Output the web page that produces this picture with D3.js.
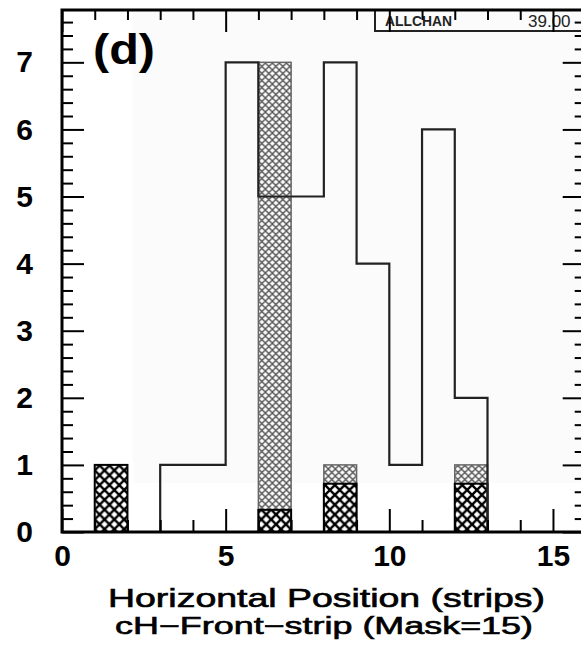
<!DOCTYPE html>
<html>
<head>
<meta charset="utf-8">
<script src="https://cdn.jsdelivr.net/npm/d3@7"></script>
<style>
  html, body { margin: 0; padding: 0; background: #fff; }
  svg { display: block; }
</style>
</head>
<body>
<div id="chart"></div>
<script>
// ---- data ----
const binStarts     = [0, 1, 2, 3, 4, 5, 6, 7, 8, 9, 10, 11, 12, 13, 14, 15];
const outlineCounts = [0, 0, 0, 1, 1, 7, 5, 5, 7, 4, 1, 6, 2, 0, 0, 0];
const lightHatch    = [0, 0, 0, 0, 0, 0, 7, 0, 1, 0, 0, 0, 1, 0, 0, 0];
const darkHatch     = [0, 1, 0, 0, 0, 0, 0.33, 0, 0.72, 0, 0, 0, 0.72, 0, 0, 0];
const xMajorTicks   = [0, 5, 10, 15];
const xMinorTicks   = [1, 2, 3, 4, 6, 7, 8, 9, 11, 12, 13, 14];
const yMajorTicks   = [0, 1, 2, 3, 4, 5, 6, 7];
const yMinorTicks   = d3.range(0, 7.7, 0.2).filter(v => Math.abs(v - Math.round(v)) > 0.05);
const panelLabel    = "(d)";
const histId        = "ALLCHAN";
const histEntries   = "39.00";
const xTitle1       = "Horizontal Position (strips)";
const xTitle2       = "cH\u2212Front\u2212strip (Mask=15)";

const W = 581, H = 650;
const svg = d3.select("#chart").append("svg").attr("width", W).attr("height", H);

const x = d3.scaleLinear().domain([0, 16]).range([62, 585.7]);
const y = d3.scaleLinear().domain([0, 7.78]).range([532, 10]);

// patterns
const defs = svg.append("defs");
const pd = defs.append("pattern").attr("id", "darkHatch").attr("patternUnits", "userSpaceOnUse")
  .attr("width", 9.8).attr("height", 9.8).attr("x", x(1)).attr("y", 0);
pd.append("rect").attr("width", 9.8).attr("height", 9.8).attr("fill", "#fff");
pd.append("path").attr("d", "M-2,-2L11.8,11.8M11.8,-2L-2,11.8").attr("stroke", "#000").attr("stroke-width", 2.4);
const pl = defs.append("pattern").attr("id", "lightHatch").attr("patternUnits", "userSpaceOnUse")
  .attr("width", 7).attr("height", 7).attr("x", x(6)).attr("y", 0);
pl.append("rect").attr("width", 7).attr("height", 7).attr("fill", "#fafafa");
pl.append("path").attr("d", "M-2,-2L9,9M9,-2L-2,9").attr("stroke", "#555").attr("stroke-width", 1.4);

// faint scan-shade region
svg.append("rect").attr("x", x(2.17)).attr("y", y(7.75)).attr("width", W - x(2.17)).attr("height", y(0.73) - y(7.75))
  .attr("fill", "#fbfbfb");

const bins = binStarts.map((b, i) => ({ b, total: outlineCounts[i], light: lightHatch[i], dark: darkHatch[i] }));

// light hatched bars
svg.append("g").selectAll("rect").data(bins.filter(d => d.light > 0)).join("rect")
  .attr("x", d => x(d.b)).attr("width", d => x(d.b + 1) - x(d.b))
  .attr("y", d => y(d.light)).attr("height", d => y(0) - y(d.light))
  .attr("fill", "url(#lightHatch)").attr("stroke", "#666").attr("stroke-width", 1.5);

// dark hatched bars
svg.append("g").selectAll("rect").data(bins.filter(d => d.dark > 0)).join("rect")
  .attr("x", d => x(d.b)).attr("width", d => x(d.b + 1) - x(d.b))
  .attr("y", d => y(d.dark)).attr("height", d => y(0) - y(d.dark))
  .attr("fill", "url(#darkHatch)").attr("stroke", "#000").attr("stroke-width", 2);

// outline histogram
const stepPts = bins.map(d => [d.b, d.total]).concat([[16, 0]]);
svg.append("path").datum(stepPts)
  .attr("d", d3.line().x(d => x(d[0])).y(d => y(d[1])).curve(d3.curveStepAfter))
  .attr("fill", "none").attr("stroke", "#222").attr("stroke-width", 2.2);

// stats box
svg.append("rect").attr("x", 375).attr("y", y(7.78)).attr("width", 240).attr("height", 21)
  .attr("fill", "none").attr("stroke", "#222").attr("stroke-width", 2);
svg.append("text").attr("x", 385).attr("y", 26).text(histId)
  .attr("font-family", "Liberation Sans Narrow, Liberation Sans, Arial, sans-serif").attr("font-weight", "bold")
  .attr("font-size", 14).attr("textLength", 67).attr("lengthAdjust", "spacingAndGlyphs").attr("fill", "#222");
svg.append("text").attr("x", 528).attr("y", 27).text(histEntries)
  .attr("font-family", "Liberation Sans, Arial, sans-serif")
  .attr("font-size", 17).attr("fill", "#222");

// axes ticks
function styleAxis(g) {
  g.select(".domain").remove();
  g.selectAll(".tick line").attr("stroke", "#000").attr("stroke-width", 2);
}
const fontTicks = "Liberation Sans, Arial, sans-serif";
// bottom
svg.append("g").attr("transform", `translate(0,${y(0)})`)
  .call(d3.axisBottom(x).tickValues(xMajorTicks).tickSizeInner(-23).tickSizeOuter(0).tickPadding(13).tickFormat(d3.format("d")))
  .call(styleAxis)
  .call(g => g.selectAll("text").attr("font-family", fontTicks).attr("font-size", 30).attr("font-weight", "bold").attr("fill", "#000"));
svg.append("g").attr("transform", `translate(0,${y(0)})`)
  .call(d3.axisBottom(x).tickValues(xMinorTicks).tickSizeInner(-12).tickSizeOuter(0).tickFormat(""))
  .call(styleAxis);
// top
svg.append("g").attr("transform", `translate(0,${y(7.78)})`)
  .call(d3.axisTop(x).tickValues(xMajorTicks).tickSizeInner(-22).tickSizeOuter(0).tickFormat(""))
  .call(styleAxis);
svg.append("g").attr("transform", `translate(0,${y(7.78)})`)
  .call(d3.axisTop(x).tickValues(xMinorTicks).tickSizeInner(-10).tickSizeOuter(0).tickFormat(""))
  .call(styleAxis);
// left
svg.append("g").attr("transform", `translate(${x(0)},0)`)
  .call(d3.axisLeft(y).tickValues(yMajorTicks).tickSizeInner(-22).tickSizeOuter(0).tickPadding(29).tickFormat(d3.format("d")))
  .call(styleAxis)
  .call(g => g.selectAll("text").attr("font-family", fontTicks).attr("font-size", 30).attr("font-weight", "bold").attr("fill", "#000"));
svg.append("g").attr("transform", `translate(${x(0)},0)`)
  .call(d3.axisLeft(y).tickValues(yMinorTicks).tickSizeInner(-11).tickSizeOuter(0).tickFormat(""))
  .call(styleAxis);
// right
svg.append("g").attr("transform", `translate(${x(16)},0)`)
  .call(d3.axisRight(y).tickValues(yMajorTicks).tickSizeInner(-23).tickSizeOuter(0).tickFormat(""))
  .call(styleAxis);
svg.append("g").attr("transform", `translate(${x(16)},0)`)
  .call(d3.axisRight(y).tickValues(yMinorTicks).tickSizeInner(-11).tickSizeOuter(0).tickFormat(""))
  .call(styleAxis);

// frame
svg.append("rect").attr("x", x(0)).attr("y", y(7.78)).attr("width", x(16) - x(0)).attr("height", y(0) - y(7.78))
  .attr("fill", "none").attr("stroke", "#000").attr("stroke-width", 3);

// panel label
svg.append("text").attr("x", 93).attr("y", 64).text(panelLabel)
  .attr("font-family", fontTicks).attr("font-weight", "bold").attr("font-size", 42)
  .attr("textLength", 62).attr("lengthAdjust", "spacingAndGlyphs").attr("fill", "#000");

// axis titles
svg.append("text").attr("x", 108).attr("y", 607).text(xTitle1)
  .attr("font-family", fontTicks).attr("font-size", 25)
  .attr("stroke", "#000").attr("stroke-width", 0.6)
  .attr("textLength", 437).attr("lengthAdjust", "spacingAndGlyphs").attr("fill", "#000");
svg.append("text").attr("x", 115).attr("y", 634).text(xTitle2)
  .attr("font-family", fontTicks).attr("font-size", 23)
  .attr("stroke", "#000").attr("stroke-width", 0.6)
  .attr("textLength", 418).attr("lengthAdjust", "spacingAndGlyphs").attr("fill", "#000");
</script>
</body>
</html>
